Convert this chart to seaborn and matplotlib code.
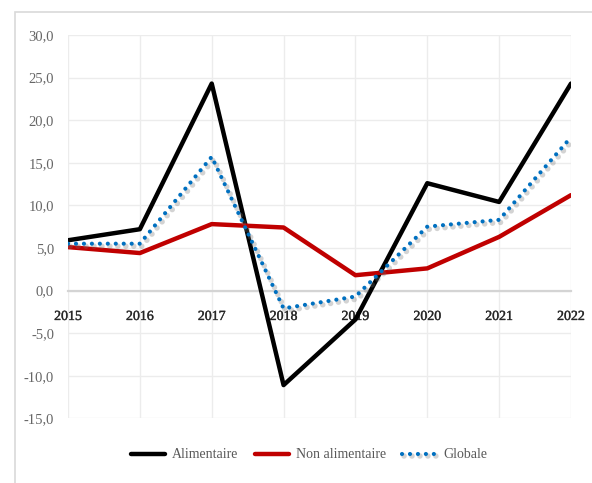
import matplotlib
matplotlib.use("Agg")
import matplotlib.pyplot as plt
import matplotlib.patheffects as pe
from matplotlib.patches import Rectangle
import seaborn as sns
import pandas as pd

years = [2015, 2016, 2017, 2018, 2019, 2020, 2021, 2022]
alimentaire = [5.9, 7.2, 24.3, -11.1, -3.4, 12.6, 10.4, 24.3]
non_alimentaire = [5.1, 4.4, 7.8, 7.4, 1.8, 2.6, 6.3, 11.2]
globale = [5.5, 5.5, 15.7, -2.1, -0.7, 7.5, 8.3, 18.0]
labels = ["Alimentaire", "Non alimentaire", "Globale"]
yticks = [30, 25, 20, 15, 10, 5, 0, -5, -10, -15]

sns.set_style("white")
plt.rcParams["font.family"] = ["Liberation Serif", "DejaVu Serif"]

fig = plt.figure(figsize=(5.92, 4.83), dpi=100)
ax = fig.add_axes([68/592, (483-418.3)/483, (571-68)/592, (418.3-35)/483])

df = pd.DataFrame({"year": years, "a": alimentaire, "n": non_alimentaire, "g": globale})

sns.lineplot(data=df, x="year", y="a", ax=ax, color="#000000", lw=3.2,
             label=labels[0], zorder=3)
sns.lineplot(data=df, x="year", y="n", ax=ax, color="#c00000", lw=3.2,
             label=labels[1], zorder=3)
sns.lineplot(data=df, x="year", y="g", ax=ax, color="#0070c0", lw=3.0,
             linestyle=(0, (0.01, 1.9)), dash_capstyle="round",
             label=labels[2], zorder=4,
             path_effects=[pe.SimpleLineShadow(offset=(1.5, -1.8), shadow_color="#707070", alpha=0.3,
                                               linewidth=4.0),
                           pe.Normal()])

ax.set_xlim(2015, 2022)
ax.set_ylim(-15, 30)
ax.set_yticks(yticks)
ax.set_yticklabels([f"{v:.1f}".replace(".", ",") for v in yticks], color="#666666", fontsize=10.5)
ax.set_xticks(years)
ax.set_xticklabels([str(y) for y in years], color="#404040", fontsize=11, fontweight="bold")
ax.set_xlabel("")
ax.set_ylabel("")

ax.grid(True, color="#ececec", lw=1.0)
ax.set_axisbelow(True)
for s in ["top", "right", "left"]:
    ax.spines[s].set_visible(False)
ax.spines["bottom"].set_position(("data", 0))
ax.spines["bottom"].set_color("#d4d4d4")
ax.spines["bottom"].set_linewidth(1.6)
ax.spines["bottom"].set_zorder(2)
ax.tick_params(axis="both", length=0)
ax.tick_params(axis="x", pad=14)
ax.tick_params(axis="y", pad=10)

leg = ax.legend(loc="center", ncol=3, frameon=False,
                fontsize=10, handlelength=2.5, handletextpad=0.45, columnspacing=1.2)
leg.set_bbox_to_anchor((309/592, (483-455)/483), transform=fig.transFigure)
for t in leg.get_texts():
    t.set_color("#595959")

fig.patches.append(Rectangle((15/592, -0.1), 1.2, (483-12)/483 + 0.1, transform=fig.transFigure,
                             fill=False, edgecolor="#d9d9d9", lw=1.2))

fig.canvas.draw()
for t in ax.xaxis.get_majorticklabels():
    t.set_path_effects([pe.withStroke(linewidth=0.3, foreground="#404040")])

fig.savefig("out.png", dpi=100)
